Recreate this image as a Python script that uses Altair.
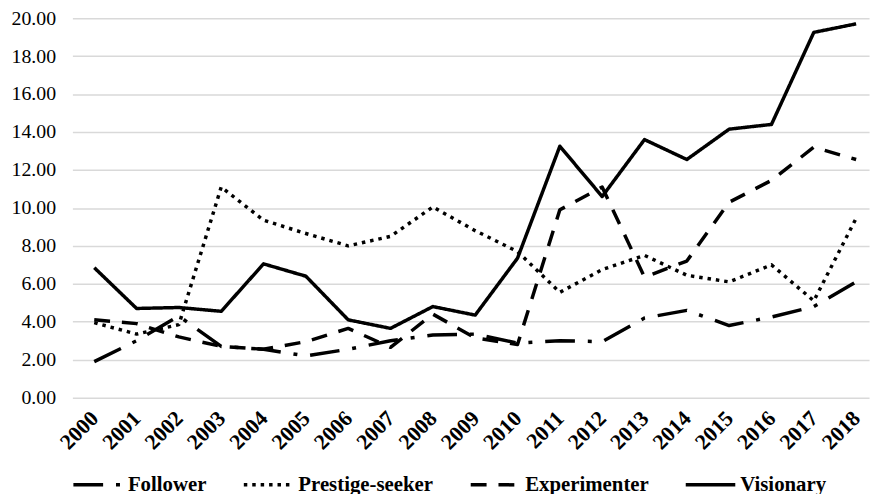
import altair as alt
import pandas as pd

years = list(range(2000, 2019))
series = ["Follower", "Prestige-seeker", "Experimenter", "Visionary"]

follower = [1.9, 3.0, 4.3, 2.7, 2.55, 2.2, 2.55, 3.0, 3.3, 3.35, 2.88, 3.0, 2.95,
            4.2, 4.6, 3.8, 4.25, 4.8, 6.1]
prestige = [3.95, 3.35, 3.85, 11.1, 9.35, 8.65, 8.0, 8.5, 10.05, 8.8, 7.7, 5.55, 6.75,
            7.5, 6.45, 6.1, 7.0, 5.1, 9.45]
experimenter = [4.1, 3.9, 3.2, 2.7, 2.55, 2.95, 3.65, 2.65, 4.4, 3.15, 2.8, 9.9, 11.1,
                6.35, 7.2, 10.3, 11.45, 13.2, 12.55]
visionary = [6.85, 4.7, 4.75, 4.55, 7.05, 6.4, 4.1, 3.65, 4.8, 4.35, 7.35, 13.25, 10.6,
             13.6, 12.55, 14.15, 14.4, 19.25, 19.7]
y_ticks = [0, 2, 4, 6, 8, 10, 12, 14, 16, 18, 20]

dashes = [[30, 13, 4, 13], [3.5, 5], [16, 12], [1, 0]]

rows = []
for name, vals in zip(series, [follower, prestige, experimenter, visionary]):
    for yr, v in zip(years, vals):
        rows.append({"year": yr, "value": v, "series": name})
df = pd.DataFrame(rows)

FONT = "Liberation Serif"

chart = alt.Chart(df).mark_line(
    color="black", strokeWidth=3.5, strokeJoin="round"
).encode(
    x=alt.X(
        "year:Q",
        scale=alt.Scale(domain=[1999.484, 2018.305], nice=False, zero=False),
        axis=alt.Axis(
            values=years, format="d", title=None, labelAngle=-45,
            labelAlign="right", labelBaseline="middle",
            labelFont=FONT, labelFontSize=22, labelFontWeight="bold",
            labelColor="black", labelPadding=17, grid=False, domain=False,
            ticks=False, labelOverlap=False, labelFlush=False,
        ),
    ),
    y=alt.Y(
        "value:Q",
        scale=alt.Scale(domain=[0, 20], nice=False),
        axis=alt.Axis(
            values=y_ticks, format=".2f", title=None,
            labelFont=FONT, labelFontSize=20, labelColor="black",
            labelPadding=17, grid=True, gridColor="#d9d9d9", gridWidth=1.5,
            domain=False, ticks=False,
        ),
    ),
    strokeDash=alt.StrokeDash(
        "series:N",
        scale=alt.Scale(domain=series, range=dashes),
        sort=series,
        legend=alt.Legend(
            title=None, orient="none", legendX=-1, legendY=444,
            direction="horizontal", symbolType="stroke", symbolSize=2500,
            symbolStrokeWidth=3.5, symbolStrokeColor="black",
            labelFont=FONT, labelFontSize=21, labelFontWeight="bold",
            labelColor="black", columnPadding=30, labelOffset=3,
            labelLimit=400,
        ),
    ),
).properties(
    width=804,
    height=383,
    autosize=alt.AutoSizeParams(type="none"),
    padding={"left": 65, "top": 8, "right": 5, "bottom": 95},
).configure_view(stroke=None)

chart.save("out.html", embed_options={"renderer": "svg", "actions": False})
